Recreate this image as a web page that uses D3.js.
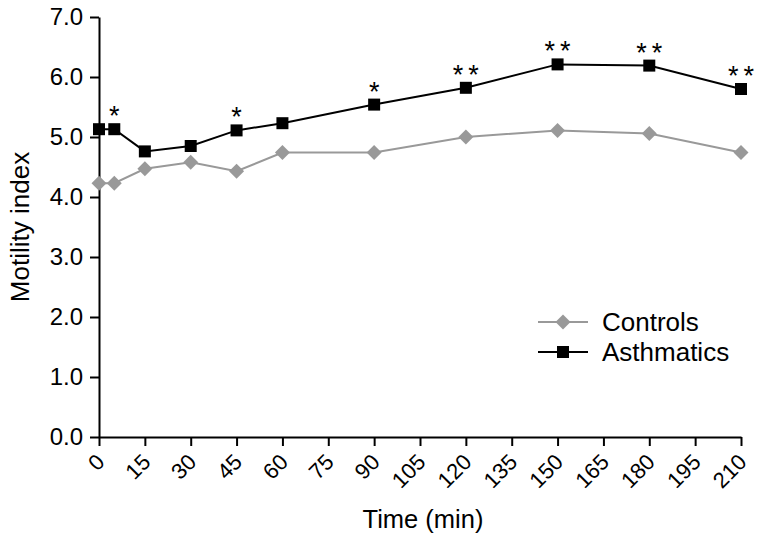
<!DOCTYPE html>
<html><head><meta charset="utf-8">
<script src="https://cdn.jsdelivr.net/npm/d3@7"></script>
<style>body{margin:0;background:#fff}svg{display:block}text{font-family:"Liberation Sans",Arial,sans-serif}</style>
</head><body><svg id="c" width="759" height="539"></svg>
<script>
const times = [0, 5, 15, 30, 45, 60, 90, 120, 150, 180, 210];
const controls = [4.23, 4.23, 4.47, 4.58, 4.43, 4.74, 4.74, 5.00, 5.11, 5.06, 4.74];
const asthmatics = [5.13, 5.13, 4.76, 4.85, 5.11, 5.23, 5.54, 5.82, 6.21, 6.19, 5.80];
const significance = ["", "*", "", "", "*", "", "*", "**", "**", "**", "**"];
const xTicks = d3.range(0, 211, 15);
const yTicks = [0, 1, 2, 3, 4, 5, 6, 7];

const svg = d3.select("#c");
const x = d3.scaleLinear().domain([0, 210]).range([99, 741]);
const y = d3.scaleLinear().domain([0, 7]).range([437, 17]);

const xa = svg.append("g").attr("transform", "translate(0,437)")
  .call(d3.axisBottom(x).tickValues(xTicks).tickSize(9).tickSizeOuter(0).tickFormat(d3.format("d")));
xa.selectAll("text").attr("font-size", 22).attr("fill", "#000")
  .attr("text-anchor", "end").attr("x", 0).attr("y", 0).attr("dy", "0.35em")
  .attr("transform", "translate(1,21) rotate(-45)");
const ya = svg.append("g").attr("transform", "translate(99,0)")
  .call(d3.axisLeft(y).tickValues(yTicks).tickSize(9).tickSizeOuter(0).tickFormat(d3.format(".1f")));
ya.selectAll("text").attr("font-size", 24).attr("fill", "#000").attr("x", -16);
svg.selectAll(".domain, .tick line").attr("stroke", "#000").attr("stroke-width", 2);

const line = d3.line().x((d, i) => x(times[i])).y(d => y(d));
svg.append("path").datum(controls).attr("d", line).attr("fill", "none").attr("stroke", "#999").attr("stroke-width", 2);
svg.append("path").datum(asthmatics).attr("d", line).attr("fill", "none").attr("stroke", "#000").attr("stroke-width", 2);

const diamond = d3.symbol().type(d3.symbolSquare).size(112);
svg.selectAll(".cm").data(controls).join("path")
  .attr("d", diamond).attr("fill", "#999")
  .attr("transform", (d, i) => `translate(${x(times[i])},${y(d)}) rotate(45)`);
svg.selectAll(".am").data(asthmatics).join("rect")
  .attr("x", (d, i) => x(times[i]) - 6).attr("y", d => y(d) - 6)
  .attr("width", 12).attr("height", 12).attr("fill", "#000");

svg.selectAll(".sig").data(significance).join("text")
  .attr("x", (d, i) => x(times[i]) + 2.5).attr("y", (d, i) => y(asthmatics[i]) - 4)
  .attr("text-anchor", "middle").attr("font-size", 27).attr("letter-spacing", "5px")
  .attr("fill", "#000").text(d => d);

svg.append("text").attr("x", 423).attr("y", 528).attr("text-anchor", "middle")
  .attr("font-size", 25.5).text("Time (min)");
svg.append("text").attr("transform", "translate(29,227) rotate(-90)").attr("text-anchor", "middle")
  .attr("font-size", 26).text("Motility index");

const legend = [{name: "Controls", color: "#999", shape: "d"}, {name: "Asthmatics", color: "#000", shape: "s"}];
legend.forEach((l, i) => {
  const ly = 322 + i * 30;
  svg.append("line").attr("x1", 538).attr("x2", 588).attr("y1", ly).attr("y2", ly).attr("stroke", l.color).attr("stroke-width", 2);
  if (l.shape === "d") svg.append("path").attr("d", diamond).attr("fill", l.color).attr("transform", `translate(563,${ly}) rotate(45)`);
  else svg.append("rect").attr("x", 557).attr("y", ly - 6).attr("width", 12).attr("height", 12).attr("fill", l.color);
  svg.append("text").attr("x", 602).attr("y", ly).attr("dy", "0.35em").attr("font-size", 26).text(l.name);
});
</script></body></html>
